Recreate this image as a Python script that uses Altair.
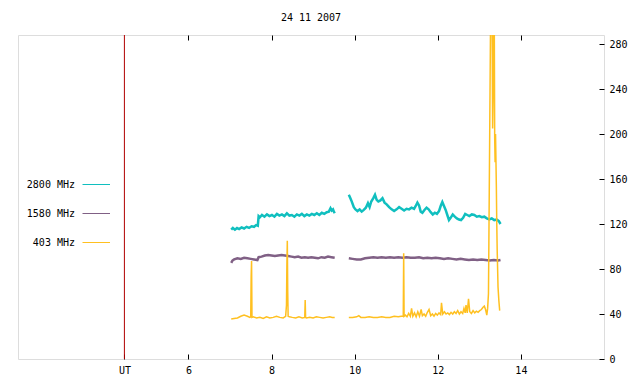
import altair as alt
import pandas as pd

# ---------------- data ----------------
title_text = "24 11 2007"
ut_hour = 4.46
x_tick_values = [6, 8, 10, 12, 14]
y_tick_values = [0, 40, 80, 120, 160, 200, 240, 280]
x_range = [1.9, 16.0]
y_range = [0, 288]

series_names = ["2800 MHz", "1580 MHz", "403 MHz"]
series_colors = ["#10bfbf", "#806085", "#ffc020"]

# 2800 MHz
c2800_t1 = [7.03, 7.07, 7.12, 7.17, 7.22, 7.28, 7.34, 7.40, 7.46, 7.52,
            7.58, 7.63, 7.67, 7.69, 7.72, 7.77, 7.83, 7.89, 7.95, 8.01,
            8.07, 8.13, 8.19, 8.25, 8.31, 8.37, 8.43, 8.49, 8.55, 8.61,
            8.67, 8.73, 8.79, 8.85, 8.91, 8.97, 9.03, 9.09, 9.15, 9.21,
            9.27, 9.33, 9.38, 9.42, 9.45, 9.48, 9.50, 9.52]
c2800_v1 = [115, 116.5, 115, 116.5, 115.5, 117, 116, 117.5, 116.5, 118,
            117.5, 119, 118.5, 127, 126, 128, 126.5, 128.5, 127, 128,
            126.5, 129, 127.5, 128.5, 127, 129.5, 127.5, 128, 126.5, 128.5,
            127.5, 129, 127, 128.5, 127.5, 129, 128, 129.5, 128, 130,
            129, 130.5, 131, 134, 132, 133, 131, 129.5]
c2800_t2 = [9.86, 9.89, 9.92, 9.95, 9.98, 10.02, 10.07, 10.12, 10.17, 10.22,
            10.27, 10.32, 10.36, 10.40, 10.45, 10.49, 10.53, 10.57, 10.62, 10.67,
            10.72, 10.77, 10.83, 10.89, 10.95, 11.01, 11.07, 11.13, 11.19, 11.25,
            11.31, 11.37, 11.43, 11.47, 11.51, 11.55, 11.59, 11.63, 11.68, 11.73,
            11.78, 11.83, 11.88, 11.93, 11.98, 12.03, 12.07, 12.11, 12.15, 12.19,
            12.23, 12.27, 12.31, 12.36, 12.41, 12.46, 12.51, 12.56, 12.61, 12.66,
            12.71, 12.76, 12.82, 12.88, 12.94, 13.00, 13.06, 13.12, 13.18, 13.24,
            13.30, 13.36, 13.42, 13.47, 13.51]
c2800_v2 = [146, 143.5, 141, 138, 135, 133, 131.5, 133, 131, 132.5,
            134.5, 138.5, 135, 140, 143, 146, 141.5, 140, 141, 143,
            139, 137.5, 135, 133, 131.5, 133, 135, 133.5, 132, 133.5,
            133, 134.5, 133.5, 136, 139, 136.5, 131, 130, 132.5, 134.5,
            133, 130.5, 128.5, 130, 129, 131.5, 136, 139.5, 136, 132.5,
            128, 123.5, 125.5, 128.5, 126.5, 125, 124, 123.5, 125.5, 129,
            128, 127, 128.5, 128, 126.5, 127, 126, 126.5, 125, 124,
            125, 123.5, 124, 122.5, 120]

# 1580 MHz
c1580_t1 = [7.03, 7.06, 7.10, 7.18, 7.26, 7.34, 7.42, 7.50, 7.58, 7.66,
            7.69, 7.76, 7.84, 7.92, 8.00, 8.08, 8.16, 8.24, 8.32, 8.40,
            8.48, 8.56, 8.64, 8.72, 8.80, 8.88, 8.96, 9.04, 9.12, 9.20,
            9.28, 9.36, 9.44, 9.52]
c1580_v1 = [85.5, 87.5, 88.5, 89.5, 89, 90, 89.5, 89, 88.5, 88,
            90.5, 91, 92, 92.5, 92, 91.5, 92, 92.5, 92, 91.5,
            91, 90.5, 91, 90, 90.5, 90, 90.5, 90, 89.5, 90.5,
            90, 91, 90.5, 90]
c1580_t2 = [9.86, 9.95, 10.05, 10.15, 10.25, 10.35, 10.45, 10.55, 10.65, 10.75,
            10.85, 10.95, 11.05, 11.15, 11.25, 11.35, 11.45, 11.55, 11.65, 11.75,
            11.85, 11.95, 12.05, 12.15, 12.25, 12.35, 12.45, 12.55, 12.65, 12.75,
            12.85, 12.95, 13.05, 13.15, 13.25, 13.35, 13.45, 13.51]
c1580_v2 = [89.5, 89, 88.5, 88.5, 89.5, 90, 90.5, 90, 90.5, 90,
            90.5, 90, 90.5, 90, 90.5, 90, 90, 90.5, 89.5, 90,
            89.5, 90, 89.5, 89, 89.5, 89, 88.5, 89, 88.5, 88,
            88.5, 88, 88.5, 88, 87.5, 88, 87.5, 88]

# 403 MHz
c403_t1 = [7.03, 7.10, 7.18, 7.26, 7.34, 7.42, 7.48, 7.50, 7.51, 7.52,
           7.53, 7.56, 7.64, 7.72, 7.80, 7.88, 7.96, 8.04, 8.12, 8.20,
           8.28, 8.34, 8.36, 8.37, 8.38, 8.39, 8.40, 8.43, 8.50, 8.58,
           8.66, 8.74, 8.80, 8.81, 8.82, 8.84, 8.92, 9.00, 9.08, 9.16,
           9.24, 9.32, 9.40, 9.46, 9.52]
c403_v1 = [35.5, 36, 36.5, 38, 39, 38, 37, 37.5, 73, 87,
           37, 37.5, 36.5, 37, 36, 37.5, 36.5, 37, 38, 37,
           36.5, 38, 48, 84, 105, 60, 38, 37.5, 37, 36.5,
           37.5, 36.5, 37, 52.5, 37, 36.5, 37, 36.5, 37.5, 37,
           36.5, 37, 37.5, 37, 37]
c403_t2 = [9.86, 9.95, 10.05, 10.10, 10.15, 10.25, 10.35, 10.45, 10.55, 10.65,
           10.75, 10.85, 10.95, 11.05, 11.12, 11.17, 11.18, 11.19, 11.22, 11.26,
           11.30, 11.34, 11.37, 11.40, 11.44, 11.48, 11.52, 11.56, 11.60, 11.63,
           11.67, 11.71, 11.75, 11.79, 11.83, 11.87, 11.91, 11.95, 11.99, 12.03,
           12.07, 12.09, 12.12, 12.16, 12.20, 12.24, 12.28, 12.32, 12.36, 12.40,
           12.44, 12.48, 12.52, 12.56, 12.60, 12.63, 12.66, 12.68, 12.71, 12.74,
           12.77, 12.81, 12.85, 12.89, 12.93, 12.97, 13.01, 13.05, 13.09, 13.12,
           13.15, 13.18, 13.20, 13.22, 13.23, 13.25, 13.26, 13.27, 13.28, 13.29,
           13.30, 13.31, 13.32, 13.33, 13.34, 13.35, 13.36, 13.37, 13.38, 13.39,
           13.41, 13.42, 13.43, 13.45, 13.47, 13.49]
c403_v2 = [37, 37, 37.5, 38.5, 37, 37, 37.5, 37, 37, 37.5,
           37, 37, 38, 37.5, 38, 38, 94, 38, 39, 37.5,
           40.5, 38, 45, 38, 41, 37.5, 42, 38, 44, 38.5,
           40, 38, 41.5, 44, 38.5, 40, 38, 40.5, 39, 41,
           39.5, 50, 40, 42, 40, 41, 39.5, 41.5, 40, 42,
           40.5, 43, 40, 42, 40.5, 45, 41, 48, 41, 53.5,
           42, 40.5, 43, 41, 42.5, 41.5, 43, 44, 46, 47,
           44, 39, 45, 58, 103, 201, 250, 300, 340, 290,
           330, 280, 205, 230, 320, 310, 300, 196, 175, 200,
           153, 120, 97, 64, 52, 43]


def frame(segments):
    rows = []
    for seg_id, (ts, vs) in enumerate(segments):
        for t, v in zip(ts, vs, strict=True):
            rows.append({"t": t, "v": v, "seg": seg_id})
    return pd.DataFrame(rows)


df2800 = frame([(c2800_t1, c2800_v1), (c2800_t2, c2800_v2)])
df1580 = frame([(c1580_t1, c1580_v1), (c1580_t2, c1580_v2)])
df403 = frame([(c403_t1, c403_v1), (c403_t2, c403_v2)])
df_ut = pd.DataFrame({"t": [ut_hour]})

# ---------------- chart ----------------
FONT = "DejaVu Sans Mono"
FS = 10
W, H = 586, 324

xscale = alt.Scale(domain=x_range, nice=False, zero=False)
yscale = alt.Scale(domain=y_range, nice=False, zero=False)

common_axis = dict(domain=False, grid=False, title=None, tickColor="black",
                   tickWidth=1, labelColor="black", labelFont=FONT,
                   labelFontSize=FS, labelFlush=False, labelOverlap=False)

bottom_axis = alt.Axis(orient="bottom", values=[ut_hour] + x_tick_values,
                       format="d",
                       labelExpr="datum.value < 5 ? 'UT' : datum.label",
                       offset=-5, tickSize=5, labelPadding=6, **common_axis)
top_axis = alt.Axis(orient="top", values=x_tick_values, labels=False,
                    offset=-5, tickSize=5, **common_axis)
right_axis = alt.Axis(orient="right", values=y_tick_values, format="d",
                      offset=-5, tickSize=5, labelPadding=5, **common_axis)

ut_rule = alt.Chart(df_ut).mark_rule(color="#b00000", strokeWidth=1).encode(
    x=alt.X("t:Q", scale=xscale, axis=bottom_axis)
)

line2800 = alt.Chart(df2800).mark_line(
    color=series_colors[0], strokeWidth=2.5, clip=True
).encode(
    x=alt.X("t:Q", scale=xscale, axis=top_axis),
    y=alt.Y("v:Q", scale=yscale, axis=right_axis),
    detail="seg:N",
)
line1580 = alt.Chart(df1580).mark_line(
    color=series_colors[1], strokeWidth=2.5, clip=True
).encode(
    x=alt.X("t:Q", scale=xscale, axis=None),
    y=alt.Y("v:Q", scale=yscale, axis=None),
    detail="seg:N",
)
line403 = alt.Chart(df403).mark_line(
    color=series_colors[2], strokeWidth=1.5, clip=True
).encode(
    x=alt.X("t:Q", scale=xscale, axis=None),
    y=alt.Y("v:Q", scale=yscale, axis=None),
    detail="seg:N",
)

# title drawn as text above the plot frame
title_layer = alt.Chart(pd.DataFrame({"label": [title_text]})).mark_text(
    align="center", baseline="middle", font=FONT, fontSize=FS, color="black"
).encode(x=alt.value(W / 2), y=alt.value(-17), text="label:N")

# key (gnuplot style: label then line sample), placed on the left
key_layers = []
for i, (name, col) in enumerate(zip(series_names, series_colors)):
    ky = 149.5 + 29 * i
    kdf = pd.DataFrame({"label": [name]})
    key_layers.append(
        alt.Chart(kdf).mark_text(align="right", baseline="middle", font=FONT,
                                 fontSize=FS, color="black").encode(
            x=alt.value(57), y=alt.value(ky), text="label:N")
    )
    key_layers.append(
        alt.Chart(kdf).mark_rule(color=col, strokeWidth=1).encode(
            x=alt.value(64.5), x2=alt.value(92), y=alt.value(ky))
    )

chart = alt.layer(
    ut_rule, line2800, line1580, line403, title_layer, *key_layers
).resolve_axis(x="independent", y="independent").properties(
    width=W, height=H,
    autosize=alt.AutoSizeParams(type="none"),
    padding={"left": 10, "top": 27, "right": 28, "bottom": 19},
).configure_view(stroke="black", strokeWidth=1).configure(background="white")

chart.save("out.html", embed_options={"renderer": "svg", "actions": False})
